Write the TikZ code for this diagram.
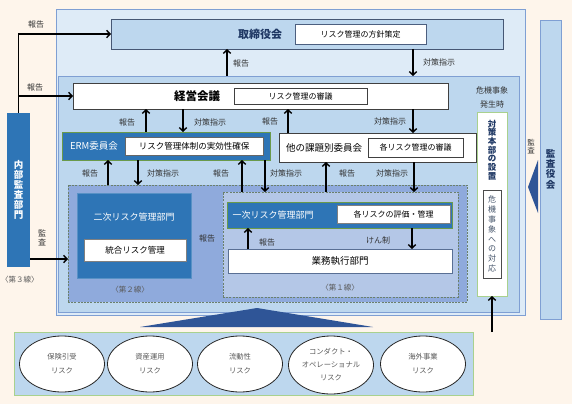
\documentclass[tikz,border=0pt]{standalone}
\usepackage{fontspec}
\setmainfont{Noto Sans CJK JP}
\usetikzlibrary{arrows.meta,shapes.geometric}
\definecolor{bgc}{HTML}{FEF5EB}
\definecolor{outerc}{HTML}{DEEBF7}
\definecolor{innerc}{HTML}{BDD7EE}
\definecolor{bordc}{HTML}{7F9FD3}
\definecolor{darkb}{HTML}{2E75B6}
\definecolor{ltwo}{HTML}{8FAADC}
\definecolor{lone}{HTML}{B4C7E7}
\definecolor{navy}{HTML}{1F3864}
\definecolor{triC}{HTML}{2F5597}
\definecolor{grn}{HTML}{A9D18E}
\definecolor{grnd}{HTML}{6A9A4A}
\definecolor{dashc}{HTML}{6B806B}
\definecolor{txtg}{HTML}{595959}
\definecolor{slate}{HTML}{44546A}
\begin{document}
\begin{tikzpicture}[x=1pt,y=-1pt,
  box/.style={rectangle, inner sep=0pt, outer sep=0pt, anchor=north west},
  wbox/.style={box, fill=white, draw=black!75, line width=0.8pt},
  dbox/.style={box, fill=darkb, draw=grnd, line width=0.9pt},
  fs/.style={inner sep=0pt, font=\fontsize{#1}{#1}\selectfont},
  lbl/.style={inner sep=0pt, font=\fontsize{8}{8}\selectfont, text=black!80},
  arr/.style={line width=1.6pt, -{Straight Barb[length=3.5pt,width=7.5pt,line width=1.4pt]}},
  dash2/.style={draw=dashc, line width=0.8pt, dash pattern=on 2pt off 1.2pt},
  risk/.style={ellipse, draw=black!85, fill=white, line width=0.8pt, minimum width=85pt, minimum height=56pt, inner sep=0pt, align=center, font=\fontsize{7.3}{14}\selectfont, text=txtg},
]
\useasboundingbox (0,0) rectangle (572,404);
\fill[bgc] (0,0) rectangle (572,404);

% outer areas
\node[box, fill=outerc, draw=bordc, line width=0.9pt, minimum width=469pt, minimum height=306pt] (outer) at (56,9) {};
\node[box, fill=innerc, draw=bordc, line width=0.9pt, minimum width=461pt, minimum height=236pt] (inner) at (58,76) {};

% board
\node[box, fill=innerc, draw=black!45!bordc, line width=0.9pt, minimum width=392pt, minimum height=30pt] (tori) at (111,19) {};
\node[font=\fontsize{11}{12}\selectfont\bfseries, inner sep=0pt, text=navy] (toriT) at (260,34) {取締役会};
\node[wbox, draw=bordc!60!black, minimum width=131pt, minimum height=20pt] (toriP) at (295,24) {};
\node[fs=8] (toriPT) at (360.5,34) {リスク管理の方針策定};

% management meeting
\node[wbox, minimum width=375pt, minimum height=26pt] (keiei) at (73,83) {};
\node[font=\fontsize{11.5}{12}\selectfont\bfseries, inner sep=0pt] (keieiT) at (197,96) {経営会議};
\node[wbox, minimum width=133pt, minimum height=16pt] (keieiP) at (234,88) {};
\node[fs=8] (keieiPT) at (300.5,96) {リスク管理の審議};

% ERM
\node[dbox, minimum width=208pt, minimum height=28pt] (erm) at (62,132) {};
\node[fs=9.5, text=white] (ermT) at (94,146) {ERM委員会};
\node[wbox, draw=black!60, minimum width=138pt, minimum height=18pt] (ermP) at (125,137) {};
\node[fs=8.5] (ermPT) at (194,146) {リスク管理体制の実効性確保};

% other committees
\node[wbox, minimum width=197pt, minimum height=29pt] (other) at (279,133) {};
\node[fs=9.5] (otherT) at (324,147.5) {他の課題別委員会};
\node[wbox, minimum width=95pt, minimum height=19pt] (otherP) at (368,138) {};
\node[fs=8] (otherPT) at (415.5,147.5) {各リスク管理の審議};

% second line
\node[box, fill=ltwo, dash2, minimum width=399pt, minimum height=117pt] (line2) at (68,185) {};
\node[box, fill=darkb, draw=darkb!80!white, line width=0.8pt, minimum width=114pt, minimum height=85pt] (niji) at (77,193) {};
\node[fs=9, text=white] (nijiT) at (134,217) {二次リスク管理部門};
\node[wbox, draw=black!50, minimum width=102pt, minimum height=22pt] (nijiP) at (84,239) {};
\node[fs=8.5] (nijiPT) at (135,250) {統合リスク管理};
\node[fs=7.5, text=txtg] (l2T) at (130,290) {〈第２線〉};

% first line
\node[box, fill=lone, dash2, minimum width=235pt, minimum height=105pt] (line1) at (223,192) {};
\node[dbox, minimum width=225pt, minimum height=26pt] (ichiji) at (227,202) {};
\node[fs=9, text=white] (ichijiT) at (273,215) {一次リスク管理部門};
\node[wbox, draw=black!50, minimum width=113pt, minimum height=18pt] (ichijiP) at (337,205) {};
\node[fs=8] (ichijiPT) at (393.5,214) {各リスクの評価・管理};
\node[wbox, draw=bordc!70!black, minimum width=224pt, minimum height=24pt] (gyomu) at (228,249) {};
\node[fs=9.5] (gyomuT) at (340,261) {業務執行部門};
\node[fs=7.5, text=txtg] (l1T) at (340,288) {〈第１線〉};
\node[lbl] (rep21) at (207,238) {報告};

% crisis HQ
\node[lbl] (crisis1) at (492,90) {危機事象};
\node[lbl] (crisis2) at (492,104) {発生時};
\node[box, fill=white, draw=grn, line width=1pt, minimum width=30pt, minimum height=184pt] (taisaku) at (477,112) {};
\node[inner sep=0pt, align=center, text=navy, font=\fontsize{8.5}{8.7}\selectfont\bfseries] (taisakuT) at (492,150) {対\\策\\本\\部\\の\\設\\置};
\node[box, fill=white, draw=black!70, line width=0.8pt, minimum width=18pt, minimum height=88pt] (taisakuP) at (483,190) {};
\node[inner sep=0pt, align=center, text=slate, font=\fontsize{8}{9.9}\selectfont] (taisakuPT) at (492,234) {危\\機\\事\\象\\へ\\の\\対\\応};

% audit board
\node[box, fill=innerc, draw=bordc, line width=0.9pt, minimum width=21pt, minimum height=299pt] (kansa) at (540,20) {};
\node[inner sep=0pt, align=center, text=navy, font=\fontsize{9.5}{10.3}\selectfont\bfseries] (kansaT) at (550.5,169) {監\\査\\役\\会};
\fill[triC] (528,187) -- (538,160) -- (538,213) -- cycle;
\node[inner sep=0pt, align=center, text=black!80, font=\fontsize{7.5}{8}\selectfont] (kansaL) at (531,147) {監\\査};

% internal audit
\node[box, fill=darkb, minimum width=23pt, minimum height=154pt] (naibu) at (7,113) {};
\node[inner sep=0pt, align=center, text=white, font=\fontsize{9.5}{10}\selectfont\bfseries] (naibuT) at (18.5,190) {内\\部\\監\\査\\部\\門};
\node[fs=7.5, text=txtg] (l3T) at (20,280) {〈第３線〉};
\node[inner sep=0pt, align=center, text=black!80, font=\fontsize{8}{9}\selectfont] (kansaL2) at (42,238) {監\\査};

% risks
\fill[triC] (140,327) -- (257,308) -- (373,327) -- cycle;
\node[box, fill=innerc, draw=grn, line width=1pt, minimum width=459pt, minimum height=63pt] (risks) at (14,332) {};
\node[risk] (r1) at (62,364) {保険引受\\リスク};
\node[risk] (r2) at (150,364) {資産運用\\リスク};
\node[risk] (r3) at (240,364) {流動性\\リスク};
\node[risk, minimum height=58pt, font=\fontsize{7.3}{13}\selectfont] (r4) at (331,365) {コンダクト・\\オペレーショナル\\リスク};
\node[risk] (r5) at (423,364) {海外事業\\リスク};

% arrows
\draw[arr] (naibu.north) |- (tori.west);
\draw[arr] (naibu.north |- keiei.west) -- (keiei.west);
\node[lbl] (repA) at (36,24) {報告};
\node[lbl] (repB) at (35,87) {報告};
\draw[arr] (naibu.east |- 0,259) -- (line2.west |- 0,259);

\draw[arr] (inner.north -| 227,0) -- (tori.south -| 227,0);
\node[lbl] (rep1) at (241,63) {報告};
\draw[arr] (tori.south -| 413,0) -- (inner.north -| 413,0);
\node[lbl] (ins1) at (439,62) {対策指示};

\draw[arr] (erm.north -| 146,0) -- (keiei.south -| 146,0);
\draw[arr] (keiei.south -| 183,0) -- (erm.north -| 183,0);
\node[lbl] (rep2) at (127,122) {報告};
\node[lbl] (ins2) at (210,122) {対策指示};

\draw[arr] (other.north -| 288,0) -- (keiei.south -| 288,0);
\draw[arr] (keiei.south -| 413,0) -- (other.north -| 413,0);
\node[lbl] (rep3) at (270,121) {報告};
\node[lbl] (ins3) at (390,121) {対策指示};

\draw[arr] (line2.north -| 108,0) -- (erm.south -| 108,0);
\draw[arr] (erm.south -| 138,0) -- (line2.north -| 138,0);
\node[lbl] (rep4) at (90,173) {報告};
\node[lbl] (ins4) at (163,173) {対策指示};

\draw[arr] (line1.north -| 242,0) -- (erm.south -| 242,0);
\draw[arr] (erm.south -| 265,0) -- (line1.north -| 265,0);
\node[lbl] (rep5) at (221,173) {報告};
\node[lbl] (ins5) at (286,173) {対策指示};

\draw[arr] (line1.north -| 326,0) -- (other.south -| 326,0);
\draw[arr] (other.south -| 414,0) -- (line1.north -| 414,0);
\node[lbl] (rep6) at (347,173) {報告};
\node[lbl] (ins6) at (392,173) {対策指示};

\draw[arr] (gyomu.north -| 248,0) -- (ichiji.south -| 248,0);
\draw[arr] (ichiji.south -| 412,0) -- (gyomu.north -| 412,0);
\node[lbl] (rep7) at (267,242) {報告};
\node[lbl] (ken) at (378,240) {けん制};

\draw[arr] (risks.north -| taisaku.south) -- (taisaku.south);
\end{tikzpicture}
\end{document}
